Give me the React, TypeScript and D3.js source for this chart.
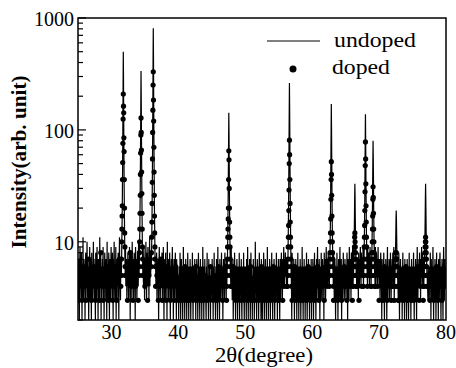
import * as d3 from 'd3';

// undoped baseline counts, 2θ = 25.00 .. 80.00 step 0.05
const undopedBase = [
  5,3,7,4,2,6,9,4,5,3,8,5,2,6,4,11,3,5,7,4,6,2,5,8,3,6,4,10,5,3,7,4,2,6,5,9,3,4,7,5,2,8,4,6,3,5,10,4,7,3,
  6,4,2,8,5,3,6,9,4,5,2,7,4,6,3,11,5,4,8,2,6,3,5,7,4,9,3,6,2,5,8,4,6,3,7,5,2,10,4,6,3,5,8,4,2,7,5,3,6,9,
  4,6,3,8,5,2,7,4,10,5,3,6,4,9,2,5,7,3,6,4,8,5,2,6,11,4,5,3,7,6,4,9,5,3,6,8,4,2,7,5,6,3,9,4,5,7,3,6,4,8,
  5,3,7,4,9,6,2,5,8,4,6,3,10,5,4,7,3,6,8,4,5,2,9,6,4,7,3,5,8,6,4,10,5,3,7,4,6,9,5,3,8,4,6,2,7,5,4,9,6,3,
  7,4,6,10,5,3,8,6,4,9,5,7,3,6,11,4,8,5,6,3,7,9,4,5,6,2,8,4,7,5,3,9,6,4,5,8,3,6,4,7,5,2,6,9,4,5,3,7,6,4,
  5,8,3,6,4,9,5,2,7,4,6,3,8,5,4,6,2,10,4,5,7,3,6,4,8,5,2,6,4,7,3,5,9,4,6,2,5,7,4,3,6,8,4,5,2,7,4,6,3,5,
  4,2,6,5,3,8,4,2,5,7,3,6,4,2,5,9,3,4,6,2,5,3,7,4,5,2,6,3,8,4,5,2,6,4,3,7,5,2,4,6,3,5,8,4,2,6,3,5,4,7,
  3,5,2,6,4,7,3,5,2,4,8,3,6,4,2,5,7,3,4,6,2,5,3,9,4,5,2,6,3,7,4,5,3,2,6,4,8,3,5,4,2,7,3,5,6,4,2,5,3,6,
  4,7,3,5,2,6,4,8,3,5,4,2,6,3,7,5,4,2,9,3,6,4,5,2,7,4,3,6,5,8,4,3,6,2,5,7,4,6,3,8,5,4,6,3,7,5,9,4,6,5,
  6,8,5,4,7,3,6,5,9,4,6,3,5,7,2,4,6,3,8,5,4,2,6,3,5,7,4,2,6,3,5,4,8,2,6,3,5,4,7,3,2,6,4,5,3,8,4,2,6,5,
  3,6,4,2,7,5,3,9,4,2,6,5,3,7,4,2,5,8,3,6,4,2,5,3,7,4,6,2,5,3,10,4,6,3,2,5,7,4,3,6,2,5,8,4,3,6,4,2,7,5,
  4,2,6,3,5,8,4,2,6,3,7,5,4,2,6,3,9,4,5,2,6,4,3,7,5,2,4,6,3,8,5,4,2,6,3,5,7,4,2,6,3,5,4,8,3,6,2,5,4,7,
  3,6,4,2,7,5,3,6,8,4,5,3,7,4,6,9,5,4,7,6,8,5,6,4,7,5,9,6,5,7,4,6,8,5,3,7,4,6,5,2,8,4,6,3,5,7,4,2,6,5,
  3,7,4,5,2,6,3,8,4,5,2,6,4,3,7,5,2,4,6,3,9,4,5,2,6,3,7,4,5,2,6,4,3,8,5,2,4,6,3,7,4,5,2,6,3,5,4,7,2,6,
  4,3,7,5,2,6,4,8,3,5,6,2,4,7,3,5,9,4,6,3,5,7,4,2,6,5,3,8,4,6,3,7,5,4,6,2,8,5,4,7,3,6,9,4,5,7,6,4,8,5,
  6,4,7,5,9,6,4,8,5,6,3,7,5,4,8,6,3,5,7,4,2,6,5,3,8,4,6,2,5,7,3,4,6,9,3,5,4,7,2,6,4,3,5,8,4,6,3,5,7,4,
  5,3,6,4,8,5,2,7,4,6,3,9,5,4,7,6,3,8,5,4,6,9,5,7,4,6,8,5,3,7,4,6,5,9,4,7,5,6,3,8,5,4,7,6,9,5,4,8,6,5,
  7,5,9,6,4,8,5,7,6,10,5,6,8,4,7,5,9,6,5,8,7,4,6,9,5,7,6,4,8,5,7,6,9,5,4,8,6,7,5,9,4,6,8,5,7,4,6,9,5,6,
  4,7,5,3,6,8,4,5,2,7,4,6,3,5,8,4,2,6,5,3,7,4,6,2,5,9,3,6,4,5,7,3,6,4,8,5,3,6,4,7,5,8,4,6,9,5,7,4,6,5,
  8,5,6,4,7,5,3,6,4,8,5,2,6,4,7,3,5,4,6,2,5,8,3,6,4,5,2,7,4,3,6,5,2,4,7,3,5,6,2,4,8,3,5,4,6,2,5,7,3,4,
  6,3,5,8,4,2,6,5,3,7,4,6,2,5,9,4,3,6,5,7,4,8,5,6,3,7,5,9,6,4,8,5,7,6,9,5,8,6,4,7,5,6,8,4,5,7,3,6,4,5,
  3,6,4,8,5,2,7,4,6,3,5,9,4,2,6,5,3,7,4,6,2,5,8,3,6,4,5,2,7,4,3,6,8,5,4,2,6,3,7,5,4,2,6,9,4,3,5,7,4,6,
  5,
];

// doped baseline counts, 2θ = 25.0 .. 80.0 step 0.2
const dopedBase = [
  3,4,5,3,6,4,3,5,7,4,3,4,6,3,5,4,3,8,4,3,5,4,6,3,4,
  5,3,4,6,3,5,7,4,3,5,4,6,3,5,8,4,3,6,4,5,3,7,4,3,5,
  4,6,3,5,7,4,3,6,4,5,3,4,7,3,5,4,3,6,4,3,5,4,3,6,4,
  3,4,5,3,4,6,3,4,3,5,4,3,4,6,3,4,5,3,4,3,5,4,3,4,6,
  4,3,5,4,3,6,4,5,3,4,6,3,4,5,3,4,6,4,3,5,4,3,4,5,3,
  4,5,3,4,6,3,4,3,5,4,3,4,6,3,5,4,3,4,5,3,4,6,3,4,5,
  3,4,5,3,4,6,4,3,5,4,3,4,6,3,4,5,3,4,3,5,4,3,6,4,3,
  4,5,3,4,6,3,4,5,4,3,6,4,5,3,4,6,3,5,4,3,4,5,3,4,6,
  4,3,5,4,6,3,4,5,6,4,3,5,4,6,3,5,4,6,5,4,3,5,4,6,4,
  3,5,4,3,6,4,3,5,4,3,4,6,3,5,4,3,4,5,3,4,6,3,4,5,3,
  4,3,5,4,6,3,4,5,3,4,6,4,5,3,4,5,3,4,6,3,4,5,3,4,4,
  4,
];

// peak positions (2θ) and profiles sampled every 0.03° around them
const peakCenters = [31.77, 34.42, 36.25, 47.54, 56.6, 62.86, 66.38, 67.96, 69.1, 72.56, 76.95];

const undopedPeaks = [
  [5,6,8,11,15,22,35,60,120,260,500,280,130,65,36,22,14,10,7,6,5],
  [5,6,7,10,13,19,30,50,95,190,336,200,100,52,30,19,12,9,7,5,5],
  [6,7,9,13,19,30,50,90,190,420,810,450,200,95,52,30,19,13,9,7,6],
  [4,5,6,7,9,12,18,28,48,85,142,90,50,28,18,12,9,7,5,5,4],
  [4,5,6,8,11,16,25,42,80,150,262,160,85,44,25,16,11,8,6,5,4],
  [4,5,6,7,10,13,20,32,58,100,170,105,60,33,20,13,10,7,6,5,4],
  [4,4,5,5,6,7,9,12,17,25,33,26,17,12,9,7,6,5,5,4,4],
  [4,5,6,7,9,12,18,28,48,85,138,88,50,28,18,12,9,7,6,5,4],
  [4,5,5,6,8,10,14,21,34,55,80,57,35,21,14,10,8,6,5,5,4],
  [3,4,4,5,5,6,7,9,12,16,19,16,12,9,7,6,5,5,4,4,3],
  [4,4,5,5,6,7,9,12,17,25,33,25,17,12,9,7,6,5,5,4,4],
];

const dopedPeaks = [
  [5,7,10,13,17,21,36,51,76,125,209,163,142,85,64,36,20,12,9,6,5],
  [5,6,8,10,13,18,26,40,62,90,128,95,66,42,27,18,13,9,7,6,5],
  [6,8,11,15,22,34,55,95,150,252,331,185,120,70,42,26,17,12,9,7,6],
  [4,5,6,7,9,11,13,16,20,36,65,54,30,20,15,11,9,7,6,5,4],
  [4,5,6,7,9,11,14,19,29,50,81,60,36,22,15,11,9,7,6,5,4],
  [4,5,6,7,8,10,12,16,24,36,52,40,26,17,12,10,8,7,6,5,4],
  [4,4,5,5,6,6,7,8,9,11,12,10,9,8,7,6,5,5,4,4,4],
  [4,5,6,7,9,11,14,19,28,48,78,55,33,21,15,11,9,7,6,5,4],
  [4,4,5,6,7,8,10,13,17,24,31,25,18,13,10,8,7,6,5,4,4],
  [3,4,4,5,5,6,6,7,7,8,8,7,7,6,6,5,5,4,4,4,3],
  [4,4,5,5,6,6,7,8,9,10,11,10,9,8,7,6,5,5,4,4,4],
];

const xTicks = [30, 40, 50, 60, 70, 80];
const yLabels = [10, 100, 1000];

function buildSeries(base, step, peaks) {
  const pts = [];
  base.forEach((v, i) => {
    const x = 25 + i * step;
    if (!peakCenters.some(c => Math.abs(x - c) < 0.31)) pts.push([x, v]);
  });
  peaks.forEach((prof, k) => {
    prof.forEach((v, j) => pts.push([peakCenters[k] + (j - 10) * 0.03, v]));
  });
  return pts.sort((a, b) => a[0] - b[0]);
}

const W = 456, H = 368;
const left = 78, right = 446, top = 18, bottom = 320;
const font = 'Liberation Serif';

export default function App() {
  const x = d3.scaleLinear().domain([25, 80]).range([left, right]);
  const y = d3.scaleLog().domain([2, 1000]).range([bottom, top]);

  const undoped = buildSeries(undopedBase, 0.05, undopedPeaks);
  const doped = buildSeries(dopedBase, 0.2, dopedPeaks);
  const linePath = d3.line().x(d => x(d[0])).y(d => y(d[1]))(undoped);

  return (
    <svg width={W} height={H} style={{ position: 'absolute', left: 0, top: 0, background: '#fff' }}>
      <defs>
        <clipPath id="plot-clip">
          <rect x={left} y={top} width={right - left} height={bottom - top} />
        </clipPath>
      </defs>

      <g clipPath="url(#plot-clip)">
        <path d={linePath} fill="none" stroke="#000" strokeWidth={1.2} />
        {doped.map((d, i) => (
          <circle key={i} cx={x(d[0])} cy={y(d[1])} r={2.6} fill="#000" />
        ))}
      </g>

      {/* frame */}
      <rect x={left} y={top} width={right - left} height={bottom - top}
        fill="none" stroke="#000" strokeWidth={1.5} />

      {/* y ticks, inside */}
      {y.ticks().map(t => {
        const major = Math.abs(Math.log10(t) - Math.round(Math.log10(t))) < 1e-6;
        return (
          <line key={t} x1={left} x2={left + (major ? 8 : 5)} y1={y(t)} y2={y(t)}
            stroke="#000" strokeWidth={1.2} />
        );
      })}

      {yLabels.map(d => (
        <text key={d} x={74} y={y(d) + 8} textAnchor="end" fontFamily={font} fontSize={20}>{d}</text>
      ))}

      {xTicks.map(d => (
        <text key={d} x={x(d)} y={339} textAnchor="middle" fontFamily={font} fontSize={20}>{d}</text>
      ))}

      <text x={264} y={362} textAnchor="middle" fontFamily={font} fontSize={21}
        textLength={98} lengthAdjust="spacingAndGlyphs">2θ(degree)</text>

      <text transform="translate(26,162) rotate(-90)" textAnchor="middle" fontFamily={font}
        fontSize={20} fontWeight="bold" textLength={173} lengthAdjust="spacingAndGlyphs">
        Intensity(arb. unit)
      </text>

      {/* legend */}
      <line x1={267} x2={320} y1={41} y2={41} stroke="#000" strokeWidth={1} />
      <text x={334} y={47} fontFamily={font} fontSize={20}
        textLength={82} lengthAdjust="spacingAndGlyphs">undoped</text>
      <circle cx={293} cy={69} r={3.5} fill="#000" />
      <text x={332} y={74} fontFamily={font} fontSize={20}
        textLength={58} lengthAdjust="spacingAndGlyphs">doped</text>
    </svg>
  );
}
